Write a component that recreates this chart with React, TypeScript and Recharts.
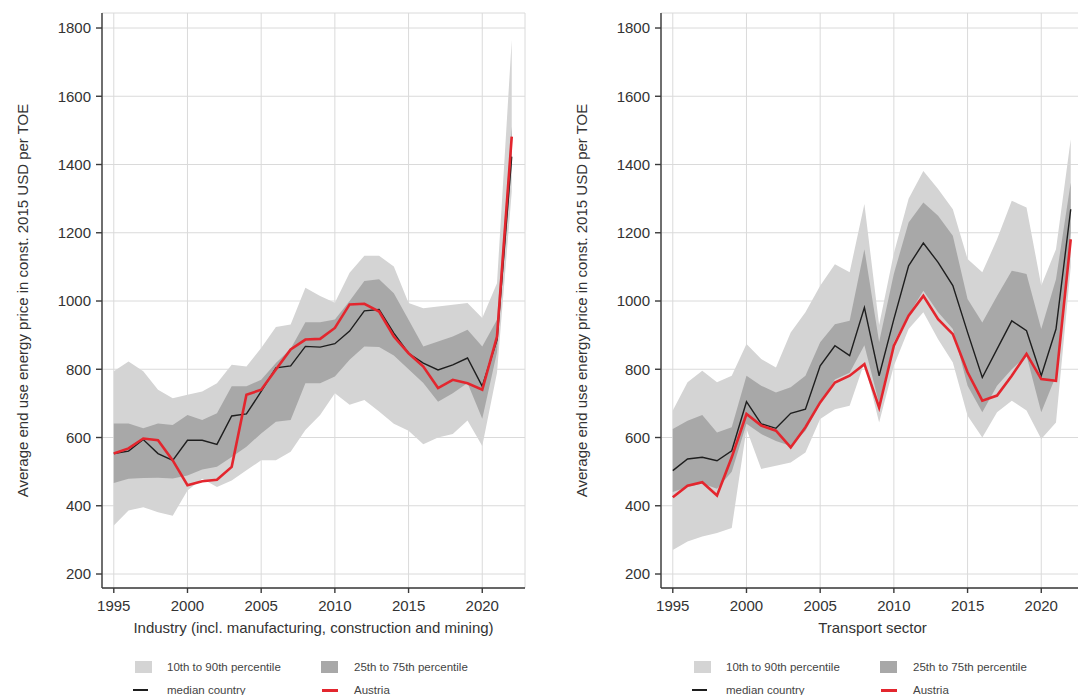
import { Area, CartesianGrid, ComposedChart, Label, Legend, Line, XAxis, YAxis } from 'recharts'

const years = [
  1995, 1996, 1997, 1998, 1999, 2000, 2001, 2002, 2003, 2004, 2005, 2006, 2007, 2008,
  2009, 2010, 2011, 2012, 2013, 2014, 2015, 2016, 2017, 2018, 2019, 2020, 2021, 2022,
]
const yearTicks = [1995, 2000, 2005, 2010, 2015, 2020]
const priceTicks = [200, 400, 600, 800, 1000, 1200, 1400, 1600, 1800]

// Industry panel
const industryP10 = [342, 386, 396, 381, 371, 445, 479, 455, 474, 504, 533, 533, 558, 622, 666, 730, 696, 710, 676, 640, 620, 580, 600, 610, 650, 575, 790, 1320]
const industryP25 = [467, 479, 481, 482, 480, 489, 506, 514, 543, 573, 612, 646, 651, 759, 759, 779, 828, 867, 865, 840, 800, 760, 705, 730, 760, 655, 850, 1400]
const industryP75 = [641, 641, 627, 641, 637, 666, 651, 671, 750, 750, 769, 818, 860, 938, 938, 946, 1000, 1059, 1064, 1023, 945, 867, 881, 896, 916, 867, 945, 1511]
const industryP90 = [794, 823, 794, 740, 715, 725, 735, 759, 813, 808, 862, 924, 931, 1039, 1015, 995, 1083, 1133, 1133, 1101, 994, 979, 984, 989, 994, 950, 1052, 1765]
const industryMedian = [553, 560, 594, 553, 533, 592, 592, 580, 663, 669, 735, 804, 810, 867, 865, 875, 912, 971, 975, 906, 847, 818, 798, 813, 833, 750, 886, 1423]
const industryAustria = [553, 568, 597, 592, 533, 460, 472, 476, 514, 725, 740, 799, 858, 887, 889, 921, 990, 992, 969, 896, 847, 808, 745, 769, 759, 740, 896, 1482]

// Transport panel
const transportP10 = [270, 295, 310, 320, 335, 625, 508, 517, 527, 556, 654, 683, 693, 820, 644, 810, 918, 967, 888, 820, 664, 600, 674, 708, 679, 596, 644, 1100]
const transportP25 = [440, 455, 465, 450, 500, 640, 610, 590, 575, 620, 700, 770, 790, 870, 700, 880, 960, 1030, 967, 918, 752, 674, 752, 800, 840, 674, 781, 1200]
const transportP75 = [625, 649, 666, 615, 630, 781, 752, 732, 747, 781, 879, 932, 942, 1152, 880, 1080, 1230, 1289, 1250, 1191, 1006, 937, 1015, 1089, 1079, 918, 1064, 1347]
const transportP90 = [679, 762, 796, 762, 781, 874, 830, 805, 908, 967, 1045, 1108, 1084, 1284, 930, 1140, 1300, 1381, 1328, 1269, 1123, 1084, 1181, 1294, 1274, 1045, 1152, 1474]
const transportMedian = [503, 537, 542, 532, 561, 705, 640, 627, 671, 683, 810, 869, 840, 981, 781, 947, 1103, 1170, 1113, 1045, 908, 776, 859, 942, 913, 781, 918, 1269]
const transportAustria = [425, 459, 469, 430, 542, 669, 635, 620, 571, 630, 703, 761, 781, 815, 688, 869, 957, 1015, 947, 903, 791, 708, 723, 781, 845, 771, 766, 1181]

const yLabel = 'Average end use energy price  in const. 2015 USD per TOE'
const FONT = 'Arial, "Liberation Sans", sans-serif'
const LIGHT = '#d4d4d4'
const DARK = '#a8a8a8'
const RED = '#e3262e'
const BLACK = '#1e1e1e'
const AXIS = '#3a3a3a'

function buildRows(p10: number[], p25: number[], p75: number[], p90: number[], median: number[], austria: number[]) {
  return years.map((year, i) => ({
    year,
    outer: [p10[i], p90[i]],
    inner: [p25[i], p75[i]],
    median: median[i],
    austria: austria[i],
  }))
}

function PanelLegend() {
  const text = { position: 'absolute' as const, lineHeight: '14px', whiteSpace: 'nowrap' as const }
  return (
    <div style={{ position: 'relative', width: 540, height: 50, fontFamily: FONT, fontSize: 11.5, color: '#444' }}>
      <div style={{ position: 'absolute', left: 135, top: 16, width: 17, height: 12, background: LIGHT }} />
      <span style={{ ...text, left: 167, top: 15 }}>10th to 90th percentile</span>
      <div style={{ position: 'absolute', left: 321, top: 16, width: 17, height: 12, background: DARK }} />
      <span style={{ ...text, left: 354, top: 15 }}>25th to 75th percentile</span>
      <div style={{ position: 'absolute', left: 133, top: 44, width: 15, height: 2, background: BLACK }} />
      <span style={{ ...text, left: 167, top: 38 }}>median country</span>
      <div style={{ position: 'absolute', left: 322, top: 44, width: 16, height: 3, background: RED }} />
      <span style={{ ...text, left: 354, top: 38 }}>Austria</span>
    </div>
  )
}

function YTitle(props: any) {
  const vb = props.viewBox
  const x = vb.x + 22
  const y = vb.y + vb.height / 2
  return (
    <text
      x={x}
      y={y}
      transform={`rotate(-90 ${x} ${y})`}
      textAnchor="middle"
      dominantBaseline="central"
      fontFamily={FONT}
      fontSize={15}
      fill="#333"
    >
      {yLabel}
    </text>
  )
}

function Panel({ rows, title }: { rows: ReturnType<typeof buildRows>; title: string }) {
  return (
    <ComposedChart width={540} height={695} data={rows} margin={{ top: 13, right: 15, left: 0, bottom: 0 }}>
      <CartesianGrid stroke="#dadada" strokeWidth={1} />
      <XAxis
        dataKey="year"
        type="number"
        domain={[1994.2, 2022.9]}
        ticks={yearTicks}
        height={57}
        tickSize={5}
        tickMargin={7}
        stroke={AXIS}
        strokeWidth={1.4}
        tick={{ fill: '#333', fontSize: 15, fontFamily: FONT }}
      >
        <Label value={title} position="insideBottom" offset={12} fill="#333" fontSize={15} fontFamily={FONT} />
      </XAxis>
      <YAxis
        type="number"
        domain={[159, 1844]}
        ticks={priceTicks}
        width={102}
        tickSize={6}
        tickMargin={5}
        stroke={AXIS}
        strokeWidth={1.4}
        tick={{ fill: '#333', fontSize: 15, fontFamily: FONT }}
        label={{ content: YTitle }}
      />
      <Legend verticalAlign="bottom" content={() => <PanelLegend />} wrapperStyle={{ left: 0, width: 540 }} />
      <Area type="linear" dataKey="outer" fill={LIGHT} fillOpacity={1} stroke="none" isAnimationActive={false} />
      <Area type="linear" dataKey="inner" fill={DARK} fillOpacity={1} stroke="none" isAnimationActive={false} />
      <Line type="linear" dataKey="median" stroke={BLACK} strokeWidth={1.4} dot={false} isAnimationActive={false} />
      <Line type="linear" dataKey="austria" stroke={RED} strokeWidth={2.6} dot={false} isAnimationActive={false} />
    </ComposedChart>
  )
}

export default function App() {
  const industryRows = buildRows(industryP10, industryP25, industryP75, industryP90, industryMedian, industryAustria)
  const transportRows = buildRows(transportP10, transportP25, transportP75, transportP90, transportMedian, transportAustria)
  return (
    <div style={{ position: 'fixed', left: 0, top: 0, width: 1078, height: 695, overflow: 'hidden', background: '#fff' }}>
      <div style={{ position: 'absolute', left: 0, top: 0 }}>
        <Panel rows={industryRows} title="Industry (incl. manufacturing, construction and mining)" />
      </div>
      <div style={{ position: 'absolute', left: 559, top: 0 }}>
        <Panel rows={transportRows} title="Transport sector" />
      </div>
    </div>
  )
}
